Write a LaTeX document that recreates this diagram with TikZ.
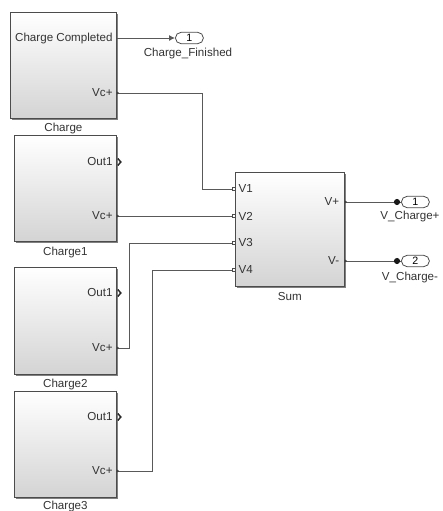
\documentclass[tikz,border=0pt]{standalone}
\usepackage{fontspec}
\setmainfont{Liberation Sans}
\usetikzlibrary{shapes.misc,arrows.meta,shadows}
\begin{document}
\begin{tikzpicture}[x=0.75pt,y=-0.75pt,
  txt/.style={font=\fontsize{8.7}{9.5}\selectfont, text=black!80, inner sep=0pt},
  blk/.style={draw=black!70, line width=0.6pt, top color=white, bottom color=black!17,
    inner sep=0pt, anchor=north west,
    drop shadow={shadow xshift=1.1pt, shadow yshift=-1.1pt, fill=black!50, opacity=1}},
  wire/.style={draw=black!65, line width=0.7pt},
  oport/.style={rounded rectangle, draw=black!70, line width=0.6pt, fill=white,
    minimum width=21pt, minimum height=8.5pt, inner sep=0pt,
    font=\fontsize{8}{8.5}\selectfont, anchor=west},
  chev/.style={draw=black!85, line width=1.1pt},
  pmark/.style={draw=black!70, fill=white, line width=0.4pt}
]
\useasboundingbox (0,0) rectangle (443,511);

% blocks
\node[blk, minimum width=79.5pt, minimum height=79.5pt] (c0) at (10,12) {};
\node[blk, minimum width=76.5pt, minimum height=79.5pt] (c1) at (14,135) {};
\node[blk, minimum width=76.5pt, minimum height=80.25pt] (c2) at (14,267) {};
\node[blk, minimum width=76.5pt, minimum height=79.5pt] (c3) at (14,391) {};
\node[blk, minimum width=81.75pt, minimum height=85.5pt] (sum) at (235,172) {};

% block names
\node[txt] (l0) at (c0.south |- 0,128) {Charge};
\node[txt] (l1) at (c1.south |- 0,252) {Charge1};
\node[txt] (l2) at (c2.south |- 0,384) {Charge2};
\node[txt] (l3) at (c3.south |- 0,506) {Charge3};
\node[txt] (ls) at (sum.south |- 0,297) {Sum};

% port coordinates
\coordinate (c0cc) at (c0.east |- 0,38);
\coordinate (c0vc) at (c0.east |- 0,93);
\coordinate (c1o) at (c1.east |- 0,162);
\coordinate (c1vc) at (c1.east |- 0,216);
\coordinate (c2o) at (c2.east |- 0,293);
\coordinate (c2vc) at (c2.east |- 0,348);
\coordinate (c3o) at (c3.east |- 0,417);
\coordinate (c3vc) at (c3.east |- 0,471);
\coordinate (v1) at (sum.west |- 0,189);
\coordinate (v2) at (sum.west |- 0,216);
\coordinate (v3) at (sum.west |- 0,243);
\coordinate (v4) at (sum.west |- 0,270);
\coordinate (vp) at (sum.east |- 0,202);
\coordinate (vm) at (sum.east |- 0,261);

% port labels
\node[txt, anchor=east] (tcc) at ([xshift=-3pt]c0cc) {Charge Completed};
\node[txt, anchor=east] (t0) at ([xshift=-3pt]c0vc) {Vc+};
\node[txt, anchor=east] (t1o) at ([xshift=-3pt]c1o) {Out1};
\node[txt, anchor=east] (t1) at ([xshift=-3pt]c1vc) {Vc+};
\node[txt, anchor=east] (t2o) at ([xshift=-3pt]c2o) {Out1};
\node[txt, anchor=east] (t2) at ([xshift=-3pt]c2vc) {Vc+};
\node[txt, anchor=east] (t3o) at ([xshift=-3pt]c3o) {Out1};
\node[txt, anchor=east] (t3) at ([xshift=-3pt]c3vc) {Vc+};
\node[txt, anchor=west] (tv1) at ([xshift=2.5pt]v1) {V1};
\node[txt, anchor=west] (tv2) at ([xshift=2.5pt]v2) {V2};
\node[txt, anchor=west] (tv3) at ([xshift=2.5pt]v3) {V3};
\node[txt, anchor=west] (tv4) at ([xshift=2.5pt]v4) {V4};
\node[txt, anchor=east] (tvp) at ([xshift=-4pt]vp) {V+};
\node[txt, anchor=east] (tvm) at ([xshift=-4pt]vm) {V-};

% Out1 chevrons
\foreach \p in {c1o,c2o,c3o}{
  \draw[chev] ([shift={(1,-3.5)}]\p) -- ([shift={(4,0)}]\p) -- ([shift={(1,3.5)}]\p);
}

% outports
\node[oport] (o1) at (175,38) {1};
\node[txt] (lo1) at (188,53) {Charge\_Finished};
\node[oport] (o2) at (401,202) {1};
\node[txt] (lo2) at (410,216) {V\_Charge+};
\node[oport] (o3) at (401,261) {2};
\node[txt] (lo3) at (410,277) {V\_Charge-};

% wires
\draw[wire, -{Latex[length=4.5pt,width=4.5pt]}] (c0cc) -- (o1.west);
\draw[wire] (c0vc) -| (202,189) -- (v1);
\draw[wire] (c1vc) -- (v2);
\draw[wire] (c2vc) -| (129,243) -- (v3);
\draw[wire] (c3vc) -| (152,270) -- (v4);
\draw[wire] (vp) -- (o2.west);
\draw[wire] (vm) -- (o3.west);
\fill[black!90] ([xshift=-3pt]o2.west) circle[radius=2.3pt];
\fill[black!90] ([xshift=-3pt]o3.west) circle[radius=2.3pt];

% small port markers
\foreach \p in {c0vc,c1vc,c2vc,c3vc,vp,vm}{
  \fill[black!75] ([shift={(0,-1.6)}]\p) -- ([shift={(2.4,0)}]\p) -- ([shift={(0,1.6)}]\p) -- cycle;
}
\foreach \p in {v1,v2,v3,v4}{
  \draw[pmark] ([shift={(-3,-1.5)}]\p) rectangle ([shift={(0,1.5)}]\p);
}
\end{tikzpicture}
\end{document}
